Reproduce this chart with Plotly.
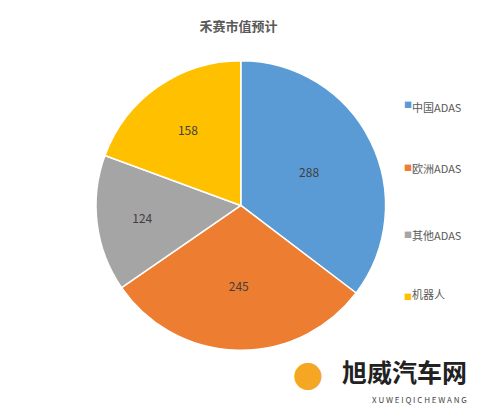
import plotly.graph_objects as go

labels = ["中国ADAS", "欧洲ADAS", "其他ADAS", "机器人"]
values = [288, 245, 124, 158]
colors = ["#5B9BD5", "#ED7D31", "#A5A5A5", "#FFC000"]

font = "Noto Sans CJK SC"

fig = go.Figure(go.Pie(
    labels=labels,
    values=values,
    sort=False,
    direction="clockwise",
    rotation=0,
    showlegend=False,
    marker=dict(colors=colors, line=dict(color="white", width=1.5)),
    textinfo="value",
    textposition="inside",
    insidetextorientation="horizontal",
    textfont=dict(color="#404040", size=12, family=font),
    domain=dict(x=[0.175, 0.795], y=[0.155, 0.87]),
))

# legend drawn by hand so the items can be spread out like the reference
legend_y = [0.78, 0.605, 0.44, 0.27]
ann = []
for lab, col, y in zip(labels, colors, legend_y):
    ann.append(dict(text="■", x=0.82, y=y, xref="paper", yref="paper", xanchor="left",
                    showarrow=False, font=dict(size=8, color=col)))
    ann.append(dict(text=lab, x=0.837, y=y, xref="paper", yref="paper", xanchor="left",
                    showarrow=False, font=dict(size=11, color="#595959", family=font)))

ann.append(dict(text="<b>旭威汽车网</b>", x=0.96, y=0.055, xref="paper", yref="paper",
                xanchor="right", showarrow=False, font=dict(size=25, color="#222222", family=font)))
ann.append(dict(text="X U W E I Q I C H E W A N G", x=0.96, y=0.015, xref="paper", yref="paper",
                xanchor="right", showarrow=False, font=dict(size=8, color="#444444", family=font)))
ann.append(dict(text="●", x=0.625, y=0.035, xref="paper", yref="paper",
                xanchor="center", showarrow=False, font=dict(size=30, color="#F5A623")))

fig.update_layout(
    width=480, height=405,
    margin=dict(l=0, r=0, t=0, b=0),
    paper_bgcolor="white",
    font=dict(family=font, color="#595959"),
    title=dict(text="<b>禾赛市值预计</b>", x=0.48, y=0.965, xanchor="center",
               font=dict(size=13, color="#595959", family=font)),
    annotations=ann,
)

fig.write_html("out.html")
